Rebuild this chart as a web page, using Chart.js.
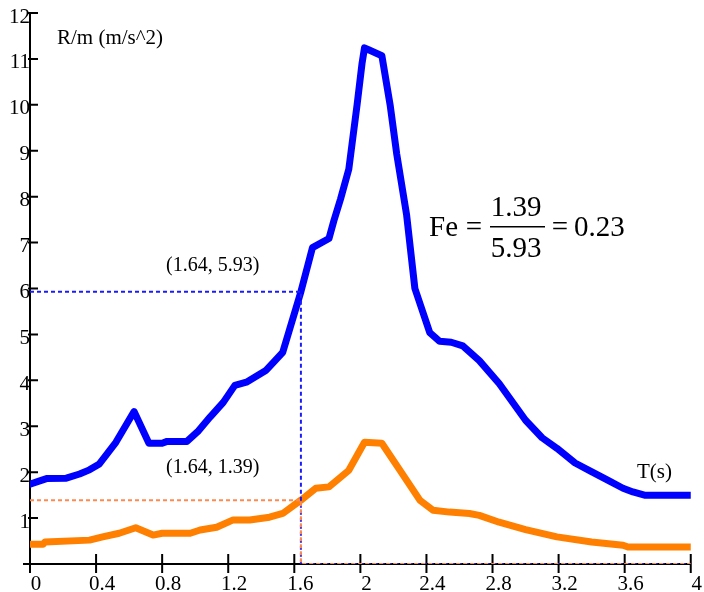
<!DOCTYPE html>
<html>
<head>
<meta charset="utf-8">
<script src="https://cdn.jsdelivr.net/npm/chart.js@4.4.1/dist/chart.umd.min.js"></script>
<style>
  html, body { margin: 0; padding: 0; background: #fff; }
  #wrap { width: 704px; height: 592px; }
</style>
</head>
<body>
<div id="wrap"><canvas id="grafico"></canvas></div>
<script>
// Periodos (s) y respuesta R/m (m/s^2)
var tAzul = [0, 0.05, 0.1, 0.22, 0.3, 0.36, 0.42, 0.52, 0.63, 0.72, 0.8, 0.83, 0.95, 1.02, 1.09, 1.17, 1.24, 1.31, 1.43, 1.53, 1.57, 1.64, 1.71, 1.81, 1.84, 1.88, 1.93, 1.98, 2.01, 2.025, 2.05, 2.13, 2.18, 2.22, 2.28, 2.33, 2.42, 2.48, 2.55, 2.62, 2.72, 2.84, 3.0, 3.1, 3.19, 3.3, 3.39, 3.5, 3.59, 3.65, 3.72, 4.0];
var rAzul = [1.74, 1.8, 1.86, 1.87, 1.96, 2.05, 2.18, 2.65, 3.32, 2.63, 2.63, 2.67, 2.67, 2.9, 3.2, 3.52, 3.89, 3.96, 4.22, 4.61, 5.09, 5.93, 6.89, 7.09, 7.48, 7.95, 8.6, 10.0, 10.9, 11.24, 11.2, 11.07, 10.0, 8.93, 7.6, 6.0, 5.04, 4.85, 4.83, 4.75, 4.43, 3.93, 3.13, 2.75, 2.52, 2.2, 2.03, 1.82, 1.65, 1.57, 1.5, 1.5];

var tNaranja = [0, 0.08, 0.09, 0.36, 0.44, 0.54, 0.64, 0.745, 0.8, 0.97, 1.03, 1.13, 1.23, 1.33, 1.45, 1.53, 1.64, 1.73, 1.81, 1.93, 2.025, 2.13, 2.24, 2.36, 2.44, 2.54, 2.66, 2.72, 2.84, 3.0, 3.19, 3.4, 3.59, 3.62, 4.0];
var rNaranja = [0.43, 0.43, 0.48, 0.52, 0.59, 0.67, 0.79, 0.63, 0.67, 0.67, 0.74, 0.8, 0.96, 0.96, 1.02, 1.1, 1.39, 1.65, 1.68, 2.04, 2.65, 2.63, 2.04, 1.39, 1.17, 1.13, 1.1, 1.06, 0.91, 0.75, 0.59, 0.48, 0.41, 0.37, 0.37];

// Lecturas marcadas con guiones
var tGuia = [0, 1.64, 1.64, 4];
var rGuiaAzul = [5.93, 5.93, 0, 0];
var rGuiaNaranja = [1.39, 1.39, 0, 0];

var xTicks = [0, 0.4, 0.8, 1.2, 1.6, 2, 2.4, 2.8, 3.2, 3.6, 4];
var xTickLabels = ['0', '0.4', '0.8', '1.2', '1.6', '2', '2.4', '2.8', '3.2', '3.6', '4'];
var yTicks = [1, 2, 3, 4, 5, 6, 7, 8, 9, 10, 11, 12];

var SERIF = '"Liberation Serif", "Times New Roman", serif';

function puntos(xs, ys) {
  return xs.map(function (x, i) { return { x: x, y: ys[i] }; });
}

// Ejes con marcas hacia dentro, como en la figura original
var ejes = {
  id: 'ejes',
  beforeDatasetsDraw: function (chart) {
    var ctx = chart.ctx, a = chart.chartArea;
    var sx = chart.scales.x, sy = chart.scales.y;
    ctx.save();
    ctx.strokeStyle = '#000';
    ctx.lineWidth = 2;
    ctx.beginPath();
    ctx.moveTo(a.left, a.top);
    ctx.lineTo(a.left, a.bottom + 9);
    ctx.moveTo(a.left - 7, a.bottom);
    ctx.lineTo(a.right, a.bottom);
    yTicks.forEach(function (v) {
      var py = sy.getPixelForValue(v);
      ctx.moveTo(a.left - 2, py);
      ctx.lineTo(a.left + 8, py);
    });
    xTicks.forEach(function (v) {
      var px = sx.getPixelForValue(v);
      ctx.moveTo(px, a.bottom - 10);
      ctx.lineTo(px, a.bottom + 9);
    });
    ctx.stroke();
    ctx.restore();
  }
};

var anotaciones = {
  id: 'anotaciones',
  afterDraw: function (chart) {
    var ctx = chart.ctx;
    ctx.save();
    ctx.fillStyle = '#000';
    ctx.textBaseline = 'middle';
    ctx.textAlign = 'left';
    ctx.font = '21px ' + SERIF;
    ctx.fillText('R/m (m/s^2)', 57, 38);
    ctx.fillText('T(s)', 637, 472);
    ctx.font = '20px ' + SERIF;
    ctx.fillText('(1.64, 5.93)', 166, 266);
    ctx.fillText('(1.64, 1.39)', 166, 468);

    ctx.font = '29px ' + SERIF;
    ctx.textBaseline = 'alphabetic';
    ctx.fillText('Fe', 429, 236);
    ctx.textAlign = 'center';
    ctx.fillText('=', 474, 236);
    ctx.fillText('1.39', 516, 216);
    ctx.fillText('5.93', 516, 257);
    ctx.fillText('=', 560, 236);
    ctx.textAlign = 'left';
    ctx.fillText('0.23', 574, 236);
    ctx.fillRect(490, 226, 55, 1.5);
    ctx.restore();
  }
};

new Chart(document.getElementById('grafico'), {
  type: 'scatter',
  data: {
    datasets: [
      { data: puntos(tGuia, rGuiaNaranja), showLine: true, borderColor: '#ff8a50', borderWidth: 2, borderDash: [4, 3], pointRadius: 0 },
      { data: puntos(tGuia, rGuiaAzul), showLine: true, borderColor: '#1a1aff', borderWidth: 2, borderDash: [4, 3], pointRadius: 0 },
      { data: puntos(tNaranja, rNaranja), showLine: true, borderColor: '#ff8000', borderWidth: 7, pointRadius: 0, borderJoinStyle: 'round', borderCapStyle: 'round' },
      { data: puntos(tAzul, rAzul), showLine: true, borderColor: '#0000ff', borderWidth: 7, pointRadius: 0, borderJoinStyle: 'round', borderCapStyle: 'round' }
    ]
  },
  options: {
    responsive: true,
    maintainAspectRatio: false,
    animation: false,
    layout: { padding: { top: 13, right: 12, left: 0, bottom: 0 } },
    plugins: { legend: { display: false }, tooltip: { enabled: false } },
    scales: {
      x: {
        type: 'linear',
        min: 0,
        max: 4,
        afterBuildTicks: function (s) { s.ticks = xTicks.map(function (v) { return { value: v }; }); },
        afterFit: function (s) { s.height = 28; },
        grid: { display: false, drawTicks: false },
        border: { display: false },
        ticks: {
          autoSkip: false,
          maxRotation: 0,
          padding: 8,
          labelOffset: 6,
          color: '#000',
          font: { family: SERIF, size: 21 },
          callback: function (v, i) { return xTickLabels[i]; }
        }
      },
      y: {
        type: 'linear',
        min: 0,
        max: 12,
        afterBuildTicks: function (s) { s.ticks = yTicks.map(function (v) { return { value: v }; }); },
        afterFit: function (s) { s.width = 30; },
        grid: { display: false, drawTicks: false },
        border: { display: false },
        ticks: {
          padding: 0,
          labelOffset: 4,
          color: '#000',
          font: { family: SERIF, size: 21 },
          callback: function (v) { return String(v); }
        }
      }
    }
  },
  plugins: [ejes, anotaciones]
});
</script>
</body>
</html>
